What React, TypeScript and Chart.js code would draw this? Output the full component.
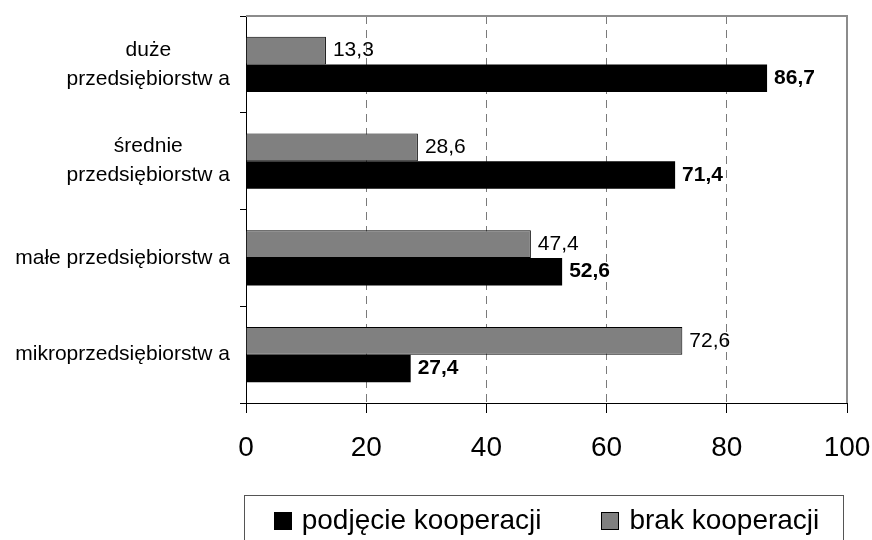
import React, { useEffect, useRef } from "react";
import { Chart, registerables } from "chart.js";

Chart.register(...registerables);

// ---- data ----
const categories: string[][] = [
  ["duże", "przedsiębiorstw a"],
  ["średnie", "przedsiębiorstw a"],
  ["małe przedsiębiorstw a"],
  ["mikroprzedsiębiorstw a"],
];
const brakKooperacji = [13.3, 28.6, 47.4, 72.6];
const podjecieKooperacji = [86.7, 71.4, 52.6, 27.4];
const seriesNames = ["brak kooperacji", "podjęcie kooperacji"];
const xMin = 0;
const xMax = 100;
const xStep = 20;

const FONT = "'Liberation Sans', Arial, Helvetica, sans-serif";
const GREY = "#808080";

const fmt = (v: number) => v.toFixed(1).replace(".", ",");

const decorPlugin = {
  id: "decor",
  beforeDatasetsDraw(chart: any) {
    const { ctx, chartArea: a } = chart;
    ctx.save();
    ctx.strokeStyle = "#8c8c8c";
    ctx.lineWidth = 2;
    ctx.setLineDash([]);
    ctx.beginPath();
    ctx.moveTo(a.left, a.top);
    ctx.lineTo(a.right, a.top);
    ctx.lineTo(a.right, a.bottom);
    ctx.stroke();
    ctx.restore();
  },
  afterDatasetsDraw(chart: any) {
    const { ctx } = chart;
    ctx.save();
    ctx.fillStyle = "#000";
    ctx.textAlign = "left";
    ctx.textBaseline = "middle";
    chart.data.datasets.forEach((ds: any, di: number) => {
      const meta = chart.getDatasetMeta(di);
      ctx.font = `${di === 1 ? "bold " : ""}21px ${FONT}`;
      meta.data.forEach((el: any, i: number) => {
        ctx.fillText(fmt(ds.data[i]), el.x + 7, el.y);
      });
    });
    ctx.restore();
  },
  afterDraw(chart: any) {
    const { ctx } = chart;
    const yScale = chart.scales.y;
    // category labels: lines centred among themselves, block right-aligned
    ctx.save();
    ctx.fillStyle = "#000";
    ctx.font = `21px ${FONT}`;
    ctx.textBaseline = "middle";
    ctx.textAlign = "center";
    const rightX = yScale.right - 16;
    const lineH = 29;
    (chart.data.labels as string[][]).forEach((lab, i) => {
      const lines = Array.isArray(lab) ? lab : [lab];
      const blockW = Math.max(...lines.map((l) => ctx.measureText(l).width));
      const cx = rightX - blockW / 2;
      const cy = yScale.getPixelForTick(i);
      lines.forEach((l, k) => {
        ctx.fillText(l, cx, cy + (k - (lines.length - 1) / 2) * lineH);
      });
    });
    ctx.restore();

    // legend
    const a = chart.chartArea;
    const order = [1, 0];
    const ds = chart.data.datasets;
    ctx.save();
    ctx.font = `28px ${FONT}`;
    ctx.textBaseline = "middle";
    ctx.textAlign = "left";
    const box = 18, gap = 10, spacing = 60;
    const widths = order.map((i) => ctx.measureText(ds[i].label).width);
    const total = widths.reduce((s, w) => s + box + gap + w, 0) + spacing * (order.length - 1);
    let x = (a.left + a.right) / 2 - total / 2;
    const cy = chart.height - 19;
    const bTop = cy - 26;
    ctx.strokeStyle = "#555";
    ctx.lineWidth = 1;
    ctx.strokeRect(Math.round(x - 30) + 0.5, Math.round(bTop) + 0.5, Math.round(total + 53), 100);
    order.forEach((i, k) => {
      const bx = Math.round(x);
      const by = Math.round(cy - box / 2);
      ctx.fillStyle = ds[i].backgroundColor;
      ctx.fillRect(bx, by, box, box);
      if (ds[i].borderWidth) {
        ctx.strokeStyle = "#000";
        ctx.lineWidth = 1;
        ctx.strokeRect(bx + 0.5, by + 0.5, box - 1, box - 1);
      }
      ctx.fillStyle = "#000";
      ctx.fillText(ds[i].label, x + box + gap, cy);
      x += box + gap + widths[k] + spacing;
    });
    ctx.restore();
  },
};

export default function App() {
  const ref = useRef<HTMLCanvasElement | null>(null);

  useEffect(() => {
    if (!ref.current) return;
    Chart.defaults.font.family = FONT;
    const chart = new Chart(ref.current, {
      type: "bar",
      data: {
        labels: categories,
        datasets: [
          {
            label: seriesNames[0],
            data: brakKooperacji,
            backgroundColor: GREY,
            borderColor: "#000",
            borderWidth: 1,
            categoryPercentage: 0.57,
            barPercentage: 1.0,
          },
          {
            label: seriesNames[1],
            data: podjecieKooperacji,
            backgroundColor: "#000",
            borderColor: "#000",
            borderWidth: 0,
            categoryPercentage: 0.57,
            barPercentage: 1.0,
          },
        ],
      },
      options: {
        indexAxis: "y",
        animation: false,
        responsive: false,
        layout: { padding: { top: 16, right: 25, left: 0, bottom: 0 } },
        plugins: {
          legend: { display: false },
          tooltip: { enabled: false },
        },
        scales: {
          x: {
            type: "linear",
            min: xMin,
            max: xMax,
            ticks: {
              stepSize: xStep,
              color: "#000",
              padding: 18,
              font: { size: 28, family: FONT },
            },
            grid: {
              color: (c: any) =>
                c.tick && (c.tick.value === xMin || c.tick.value === xMax)
                  ? "rgba(0,0,0,0)"
                  : "#7a7a7a",
              lineWidth: 1,
              tickColor: "#000",
              tickLength: 10,
              tickBorderDash: [],
            },
            border: { display: true, color: "#000", width: 1, dash: [8, 6] },
            afterFit: (s: any) => {
              s.height = 137;
              s.paddingLeft = 0;
              s.paddingRight = 0;
            },
          },
          y: {
            type: "category",
            ticks: { display: false },
            grid: {
              drawOnChartArea: false,
              drawTicks: true,
              tickLength: 6,
              color: "#000",
              tickColor: "#000",
            },
            border: { display: true, color: "#000", width: 1 },
            afterFit: (s: any) => {
              s.width = 246;
            },
          },
        },
      },
      plugins: [decorPlugin],
    });
    return () => chart.destroy();
  }, []);

  return (
    <div style={{ position: "fixed", left: 0, top: 0, width: 872, height: 540, background: "#fff" }}>
      <canvas ref={ref} width={872} height={540} />
    </div>
  );
}
